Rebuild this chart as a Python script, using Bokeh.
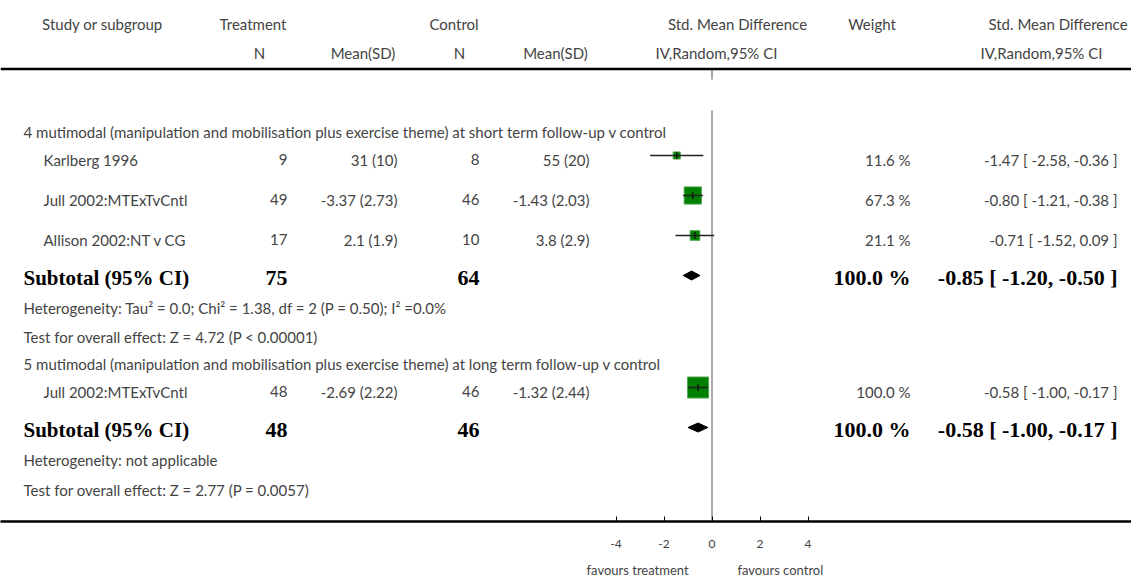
import math
from bokeh.plotting import figure
from bokeh.models import Range1d, LinearAxis, FixedTicker, ColumnDataSource, Span
from bokeh.core.properties import value
from bokeh.embed import file_html
from bokeh.resources import INLINE

# ---------------- data ----------------
header_top = ["Study or subgroup", "Treatment", "Control", "Std. Mean Difference", "Weight", "Std. Mean Difference"]
header_sub = ["N", "Mean(SD)", "N", "Mean(SD)", "IV,Random,95% CI", "IV,Random,95% CI"]

group1_title = "4 mutimodal (manipulation and mobilisation plus exercise theme) at short term follow-up v control"
g1_study = ["Karlberg 1996", "Jull 2002:MTExTvCntl", "Allison 2002:NT v CG"]
g1_treat_n = [9, 49, 17]
g1_treat_mean = [31, -3.37, 2.1]
g1_treat_sd = [10, 2.73, 1.9]
g1_ctrl_n = [8, 46, 10]
g1_ctrl_mean = [55, -1.43, 3.8]
g1_ctrl_sd = [20, 2.03, 2.9]
g1_smd = [-1.47, -0.80, -0.71]
g1_lo = [-2.58, -1.21, -1.52]
g1_hi = [-0.36, -0.38, 0.09]
g1_weight = [11.6, 67.3, 21.1]
g1_total = [75, 64]
g1_pooled = [-0.85, -1.20, -0.50]
g1_pooled_weight = 100.0
g1_het = "Heterogeneity: Tau\u00b2 = 0.0; Chi\u00b2 = 1.38, df = 2 (P = 0.50); I\u00b2 =0.0%"
g1_test = "Test for overall effect: Z = 4.72 (P < 0.00001)"

group2_title = "5 mutimodal (manipulation and mobilisation plus exercise theme) at long term follow-up v control"
g2_study = ["Jull 2002:MTExTvCntl"]
g2_treat_n = [48]
g2_treat_mean = [-2.69]
g2_treat_sd = [2.22]
g2_ctrl_n = [46]
g2_ctrl_mean = [-1.32]
g2_ctrl_sd = [2.44]
g2_smd = [-0.58]
g2_lo = [-1.00]
g2_hi = [-0.17]
g2_weight = [100.0]
g2_total = [48, 46]
g2_pooled = [-0.58, -1.00, -0.17]
g2_pooled_weight = 100.0
g2_het = "Heterogeneity: not applicable"
g2_test = "Test for overall effect: Z = 2.77 (P = 0.0057)"

axis_ticks = [-4, -2, 0, 2, 4]
favour_labels = ["favours treatment", "favours control"]

# ---------------- layout ----------------
X0, Y0 = 0, 0            # layout coordinate at canvas left / top
FW, AXIS_Y = 1131, 521   # frame width, layout y of axis line
ZERO_X, PX_UNIT = 711.5, 24.0
REG = "Lato"
SERIF = "Liberation Serif"
TXT = "#444444"
WORD_SIZE = "15px"
NUM_SIZE = "15px"
RES_SIZE = "15px"
BOLD_WORD = "21px"
BOLD_NUM = "22px"

col_hdr_top = [102, 252.5, 453.5, 737, 871.5, 1057.5]
col_hdr_sub = [259, 362.5, 459, 555, 716, 1041]
y_hdr_top, y_hdr_sub = 23, 52
x_left, x_study = 23, 43
x_tn, x_tm, x_cn, x_cm, x_w, x_ci = 287, 397, 479, 589, 910, 1117

y_g1_title = 131
y_g1_rows = [159, 199, 239]
y_g1_sub, y_g1_het, y_g1_test = 277, 307, 336
y_g2_title = 363
y_g2_rows = [391]
y_g2_sub, y_g2_het, y_g2_test = 429, 459, 489
study_off, sub_off = -4, -2
diamond_half = 4.5

p = figure(frame_width=FW - X0, frame_height=AXIS_Y - Y0, output_backend="svg", toolbar_location=None,
           x_range=Range1d(X0, FW), y_range=Range1d(AXIS_Y, Y0),
           x_axis_location=None, y_axis_location=None, min_border=0,
           outline_line_color=None, background_fill_color="white", border_fill_color="white")
p.grid.visible = False
p.extra_x_ranges = {"smd": Range1d((X0 - ZERO_X) / PX_UNIT, (FW - ZERO_X) / PX_UNIT)}


def txt(xs, ys, texts, align="left", font=REG, size=WORD_SIZE, color=TXT, style="normal"):
    src = ColumnDataSource(dict(x=list(xs), y=list(ys), t=list(texts)))
    p.text(x="x", y="y", text="t", source=src, text_align=align, text_baseline="middle",
           text_font=value(font), text_font_size=size, text_color=color, text_font_style=style)


def msd(m, s):
    return f"{m} ({s})"


def ci(e, l, h):
    return f"{e:.2f} [ {l:.2f}, {h:.2f} ]"


# headers
txt(col_hdr_top, [y_hdr_top] * 6, header_top, align="center")
txt(col_hdr_sub, [y_hdr_sub] * 6, header_sub, align="center")
p.add_layout(Span(location=68.5, dimension="width", line_color="black", line_width=2.5))

# null effect line
p.segment(x0=[0, 0], y0=[69, 110], x1=[0, 0], y1=[79, AXIS_Y], x_range_name="smd",
          line_color="#555555", line_width=1)


def group(title, y_title, studies, tn, tm, tsd, cn, cm, csd, smd, lo, hi, w,
          rows_y, total, pooled, pw, het, test, y_sub, y_het, y_test):
    txt([x_left], [y_title], [title])
    txt([x_study] * len(studies), rows_y, studies)
    txt([x_tn] * len(tn), rows_y, [str(v) for v in tn], align="right", size=NUM_SIZE)
    txt([x_tm] * len(tm), rows_y, [msd(a, b) for a, b in zip(tm, tsd)], align="right", size=NUM_SIZE)
    txt([x_cn] * len(cn), rows_y, [str(v) for v in cn], align="right", size=NUM_SIZE)
    txt([x_cm] * len(cm), rows_y, [msd(a, b) for a, b in zip(cm, csd)], align="right", size=NUM_SIZE)
    txt([x_w] * len(w), rows_y, [f"{v:.1f} %" for v in w], align="right", size=RES_SIZE)
    txt([x_ci] * len(smd), rows_y, [ci(e, l, h) for e, l, h in zip(smd, lo, hi)], align="right", size=RES_SIZE)
    fy = [y + study_off for y in rows_y]
    sizes = [max(7.0, 21.0 * math.sqrt(v / 100.0)) for v in w]
    p.scatter(x=smd, y=fy, size=sizes, marker="square", fill_color="#008000",
              line_color="#4fa64f", line_width=1, x_range_name="smd")
    p.segment(x0=lo, y0=fy, x1=hi, y1=fy, line_color="#222222", line_width=1.5, x_range_name="smd")
    p.scatter(x=smd, y=fy, size=7, marker="dash", angle=math.pi / 2, line_color="#111111",
              line_width=1.3, x_range_name="smd")
    # subtotal
    txt([x_left], [y_sub], ["Subtotal (95% CI)"], font=SERIF, size=BOLD_WORD, color="black", style="bold")
    txt([x_tn, x_cn], [y_sub, y_sub], [str(total[0]), str(total[1])], align="right",
        font=SERIF, size=BOLD_NUM, color="black", style="bold")
    txt([x_w], [y_sub], [f"{pw:.1f} %"], align="right", font=SERIF, size=BOLD_NUM, color="black", style="bold")
    txt([x_ci], [y_sub], [ci(*pooled)], align="right", font=SERIF, size=BOLD_NUM, color="black", style="bold")
    dy = y_sub + sub_off
    e, l, h = pooled
    p.patches(xs=[[l, e, h, e]], ys=[[dy, dy - diamond_half, dy, dy + diamond_half]],
              fill_color="black", line_color="black", line_width=1, x_range_name="smd")
    txt([x_left, x_left], [y_het, y_test], [het, test])


group(group1_title, y_g1_title, g1_study, g1_treat_n, g1_treat_mean, g1_treat_sd, g1_ctrl_n,
      g1_ctrl_mean, g1_ctrl_sd, g1_smd, g1_lo, g1_hi, g1_weight, y_g1_rows, g1_total,
      g1_pooled, g1_pooled_weight, g1_het, g1_test, y_g1_sub, y_g1_het, y_g1_test)
group(group2_title, y_g2_title, g2_study, g2_treat_n, g2_treat_mean, g2_treat_sd, g2_ctrl_n,
      g2_ctrl_mean, g2_ctrl_sd, g2_smd, g2_lo, g2_hi, g2_weight, y_g2_rows, g2_total,
      g2_pooled, g2_pooled_weight, g2_het, g2_test, y_g2_sub, y_g2_het, y_g2_test)

# axes
ax = LinearAxis(x_range_name="smd", ticker=FixedTicker(ticks=axis_ticks),
                major_label_overrides={t: str(t) for t in axis_ticks})
ax.axis_line_color = "black"
ax.axis_line_width = 2.5
ax.major_tick_in = 5
ax.major_tick_out = 0
ax.major_tick_line_color = "black"
ax.major_tick_line_width = 1
ax.minor_tick_line_color = None
ax.major_label_text_font = REG
ax.major_label_text_font_size = "12px"
ax.major_label_text_color = TXT
ax.major_label_standoff = 18
p.add_layout(ax, "below")

fav_pos = [-3.1, 2.85]
ax2 = LinearAxis(x_range_name="smd", ticker=FixedTicker(ticks=fav_pos),
                 major_label_overrides={k: v for k, v in zip(fav_pos, favour_labels)})
ax2.axis_line_color = None
ax2.major_tick_line_color = None
ax2.minor_tick_line_color = None
ax2.major_tick_in = 0
ax2.major_tick_out = 0
ax2.major_label_text_font = REG
ax2.major_label_text_font_size = "13px"
ax2.major_label_text_color = TXT
ax2.major_label_standoff = 11
p.add_layout(ax2, "below")

open("out.html", "w").write(file_html(p, INLINE))
